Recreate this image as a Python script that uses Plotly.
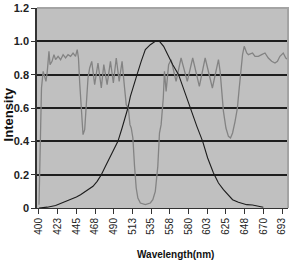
import plotly.graph_objects as go

# ---- data ----
tick_vals = [400, 422.5, 445, 467.5, 490, 512.5, 535, 557.5, 580, 602.5, 625, 647.5, 670, 692.5]
tick_text = ["400", "423", "445", "468", "490", "513", "535", "558", "580", "603", "625", "648", "670", "693"]
y_ticks = [0, 0.2, 0.4, 0.6, 0.8, 1.0, 1.2]
y_text = ["0", "0.2", "0.4", "0.6", "0.8", "1.0", "1.2"]

# grey transmission curve
trans_nm = [400, 401.5, 403, 405, 407, 408.4, 410, 412, 413.3, 415.7, 418, 420, 423, 426, 429, 432,
            435, 438, 441, 444, 446, 447.5, 449, 451, 453, 455, 457, 459, 461, 463.5, 467, 471,
            475, 478, 482, 486, 489.5, 493, 496.5, 500, 503, 505, 507.5, 509.5, 511, 513, 515,
            517, 519, 522, 528, 534, 537, 540, 543, 545, 547, 549.6, 551, 553, 556, 559, 565,
            571, 578.5, 585, 593, 600, 608.7, 616, 618, 620, 622, 625, 628, 630.5, 633, 636,
            638.8, 641, 642.5, 645, 647, 650, 652, 657, 660, 664, 668, 672, 676, 680, 684,
            687, 690, 694, 697, 700]
trans_val = [0.02, 0.4, 0.72, 0.82, 0.78, 0.76, 0.82, 0.94, 0.86, 0.88, 0.92, 0.89, 0.91, 0.89, 0.92, 0.90,
             0.92, 0.91, 0.93, 0.91, 0.95, 0.90, 0.75, 0.55, 0.44, 0.47, 0.65, 0.78, 0.84, 0.88, 0.74, 0.87,
             0.72, 0.86, 0.74, 0.88, 0.75, 0.90, 0.76, 0.88, 0.72, 0.62, 0.60, 0.50, 0.48, 0.42, 0.25,
             0.12, 0.06, 0.03, 0.02, 0.03, 0.05, 0.10, 0.25, 0.45, 0.50, 0.66, 0.82, 0.70, 0.86, 0.89, 0.76,
             0.90, 0.76, 0.90, 0.73, 0.90, 0.72, 0.89, 0.82, 0.70, 0.58, 0.48, 0.43, 0.42, 0.45, 0.52,
             0.60, 0.72, 0.80, 0.92, 0.97, 0.93, 0.92, 0.93, 0.91, 0.91, 0.92, 0.93, 0.90, 0.88, 0.87,
             0.88, 0.91, 0.93, 0.90, 0.89]

# black emission curve
emis_nm = [400, 410, 420, 430, 440, 445, 450, 455, 460, 465, 470, 475, 480, 485, 490, 495, 500,
           505, 507, 510, 515, 518, 523, 528, 534, 540, 545, 550, 555, 561, 568, 575, 582, 590,
           597, 603, 610, 616, 622, 628, 633, 640, 645, 650, 657, 665, 670]
emis_val = [0.0, 0.005, 0.015, 0.035, 0.055, 0.066, 0.08, 0.095, 0.11, 0.13, 0.16, 0.20, 0.25, 0.30, 0.35, 0.40, 0.48,
            0.56, 0.60, 0.67, 0.76, 0.80, 0.88, 0.95, 0.98, 1.0, 1.0, 0.97, 0.92, 0.86, 0.80, 0.70, 0.60, 0.49,
            0.40, 0.30, 0.21, 0.15, 0.11, 0.075, 0.05, 0.035, 0.027, 0.02, 0.018, 0.01, 0.005]

FONT = "Liberation Sans, Arial, sans-serif"

fig = go.Figure()
fig.add_trace(go.Scatter(x=trans_nm, y=trans_val, mode="lines",
                         line=dict(color="#838383", width=1.3), showlegend=False))
fig.add_trace(go.Scatter(x=emis_nm, y=emis_val, mode="lines",
                         line=dict(color="#1c1c1c", width=1.1), showlegend=False))

fig.update_layout(
    width=290, height=264,
    margin=dict(l=37, r=2, t=5, b=56),
    paper_bgcolor="white",
    plot_bgcolor="#c0c0c0",
    font=dict(family=FONT, color="#222222"),
    xaxis=dict(range=[397.6, 699.7], tickmode="array", tickvals=tick_vals, ticktext=tick_text,
               tickangle=-90, ticks="outside", ticklen=5, tickwidth=1, tickcolor="#333",
               showgrid=False, zeroline=False, showline=True, linecolor="#333", linewidth=1,
               tickfont=dict(size=10, family=FONT, color="#222"), fixedrange=True),
    yaxis=dict(range=[0, 1.2], tickmode="array", tickvals=y_ticks, ticktext=y_text,
               ticks="outside", ticklen=4, tickwidth=1, tickcolor="#333",
               ticklabeloverflow="allow",
               showgrid=True, gridcolor="#1e1e1e", gridwidth=1.5,
               zeroline=False, showline=True, linecolor="#333", linewidth=1.5,
               tickfont=dict(size=11, family=FONT, color="#222", weight="bold"), fixedrange=True),
    shapes=[dict(type="path", xref="paper", yref="paper", path="M 0 1 L 1 1 L 1 0",
                 line=dict(color="#a4a4a4", width=2), layer="above")],
    annotations=[
        dict(text="<b>Wavelength(nm)</b>", xref="paper", yref="paper", x=0.55, y=-0.2315,
             xanchor="center", yanchor="middle", showarrow=False,
             font=dict(size=10, family=FONT, color="#111")),
        dict(text="<b>Intensity</b>", xref="paper", yref="paper", x=-0.1155, y=0.468,
             xanchor="center", yanchor="middle", textangle=-90, showarrow=False,
             font=dict(size=13, family=FONT, color="#111")),
    ],
)

fig.write_html("out.html")
